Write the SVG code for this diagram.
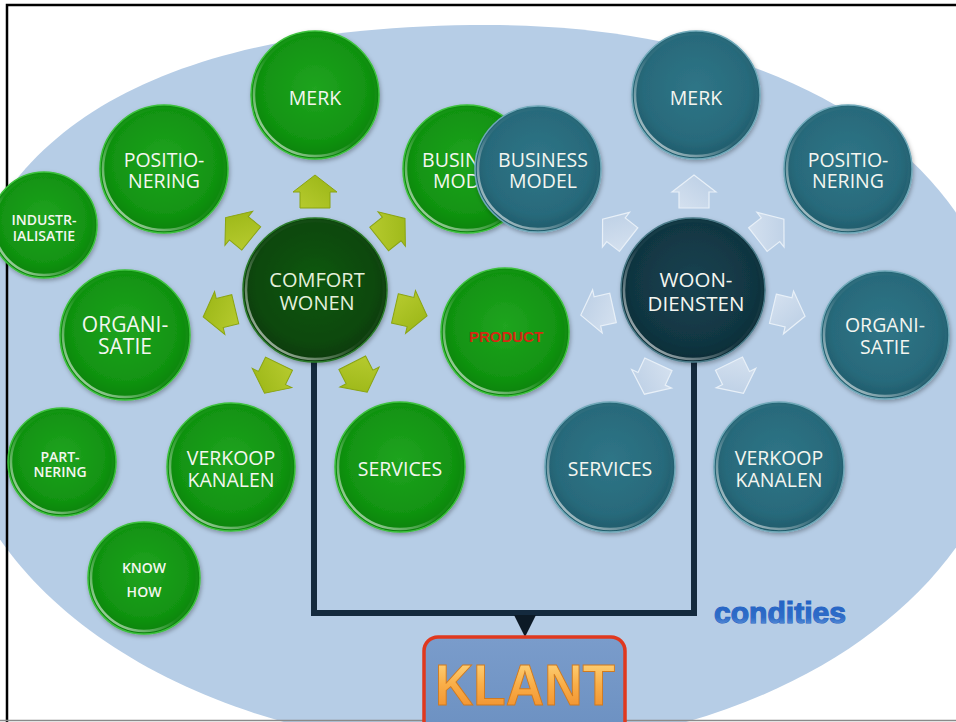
<svg xmlns="http://www.w3.org/2000/svg" width="956" height="722" viewBox="0 0 956 722">
<defs>
<radialGradient id="gG" cx="50%" cy="45%" r="55%"><stop offset="0" stop-color="#20a420"/><stop offset="0.75" stop-color="#119311"/><stop offset="1" stop-color="#0a820a"/></radialGradient>
<radialGradient id="tG" cx="50%" cy="45%" r="55%"><stop offset="0" stop-color="#2f7587"/><stop offset="0.75" stop-color="#286a7b"/><stop offset="1" stop-color="#1f5a6a"/></radialGradient>
<radialGradient id="cG" cx="50%" cy="45%" r="55%"><stop offset="0" stop-color="#105812"/><stop offset="0.75" stop-color="#0a480c"/><stop offset="1" stop-color="#073a08"/></radialGradient>
<radialGradient id="wG" cx="50%" cy="45%" r="55%"><stop offset="0" stop-color="#174251"/><stop offset="0.75" stop-color="#113642"/><stop offset="1" stop-color="#0b2c36"/></radialGradient>
<linearGradient id="rimG" x1="1" y1="0" x2="0" y2="1"><stop offset="0" stop-color="#fff" stop-opacity="0"/><stop offset="0.55" stop-color="#fff" stop-opacity="0.05"/><stop offset="1" stop-color="#fff" stop-opacity="0.8"/></linearGradient>
<linearGradient id="klantG" x1="0" y1="0" x2="0" y2="1"><stop offset="0" stop-color="#ffe08a"/><stop offset="0.5" stop-color="#f9ae48"/><stop offset="1" stop-color="#f08a28"/></linearGradient>
<linearGradient id="boxG" x1="0" y1="0" x2="0" y2="1"><stop offset="0" stop-color="#7a9ccb"/><stop offset="1" stop-color="#6a8fc0"/></linearGradient>
<linearGradient id="condG" x1="0" y1="0" x2="0" y2="1"><stop offset="0" stop-color="#2160c4"/><stop offset="0.65" stop-color="#2e6cc8"/><stop offset="1" stop-color="#6f9fe0"/></linearGradient>
<linearGradient id="agG" x1="0" y1="0" x2="1" y2="1"><stop offset="0" stop-color="#b8cc30"/><stop offset="1" stop-color="#98b414"/></linearGradient>
<linearGradient id="atG" x1="0" y1="0" x2="1" y2="1"><stop offset="0" stop-color="#d6e2f0"/><stop offset="1" stop-color="#b9cde4"/></linearGradient>
<filter id="sh" x="-20%" y="-20%" width="140%" height="140%"><feDropShadow dx="1" dy="2" stdDeviation="2" flood-color="#000" flood-opacity="0.3"/></filter>
<path id="arr" d="M-16,-15H0V-22L17,0L0,22V15H-16Z"/>
<style>
.gc{fill:url(#gG);stroke:#3cc03c;stroke-width:1.5;filter:url(#sh)}
.tc{fill:url(#tG);stroke:#6fa8b8;stroke-width:1.5;filter:url(#sh)}
.rim{fill:none;stroke:url(#rimG);stroke-width:2.5}
.t{font-family:"Open Sans","Liberation Sans",sans-serif;font-size:19.5px;fill:#f4f6f0;text-anchor:middle}
.s{font-size:14px;font-weight:600}
.ag{fill:url(#agG);stroke:#8aa412;stroke-width:1}
.at{fill:url(#atG);stroke:#e8f0f8;stroke-width:1.2}
.ln{fill:none;stroke:#142a3e;stroke-width:6;stroke-linejoin:miter}
</style>
</defs>
<rect width="956" height="722" fill="#fff"/>
<path d="M488,25C801,25 1010,170 1010,387C1010,587 776,749 488,749C191,749 -50,587 -50,387C-50,148 133,25 488,25Z" fill="#b6cde6"/>
<path d="M7,722V5H956" fill="none" stroke="#000" stroke-width="2.5"/>
<line x1="0" y1="720.5" x2="956" y2="720.5" stroke="#8a8a8a" stroke-width="1.5"/>

<g id="connectors">
<path class="ln" d="M314,362V613H694V362"/>
<polygon points="514,615 536,615 525,637" fill="#0c1a26"/>
</g>

<g id="arrows-comfort">
<use href="#arr" class="ag" transform="translate(315,192) rotate(-90)"/>
<use href="#arr" class="ag" transform="translate(391.7,229) rotate(-38.5)"/>
<use href="#arr" class="ag" transform="translate(410.5,312) rotate(13)"/>
<use href="#arr" class="ag" transform="translate(359.5,377) rotate(63)"/>
<use href="#arr" class="ag" transform="translate(272,378) rotate(116)"/>
<use href="#arr" class="ag" transform="translate(219.7,313) rotate(166.5)"/>
<use href="#arr" class="ag" transform="translate(238.8,228.3) rotate(-141)"/>
</g>
<g id="arrows-woon">
<use href="#arr" class="at" transform="translate(694,192) rotate(-90)"/>
<use href="#arr" class="at" transform="translate(616,229.7) rotate(-142)"/>
<use href="#arr" class="at" transform="translate(770.5,229.7) rotate(-38)"/>
<use href="#arr" class="at" transform="translate(788.5,312.4) rotate(13.2)"/>
<use href="#arr" class="at" transform="translate(736,378) rotate(64)"/>
<use href="#arr" class="at" transform="translate(651.6,378.8) rotate(115)"/>
<use href="#arr" class="at" transform="translate(597.4,311.4) rotate(167.4)"/>
</g>

<g id="g-merk" transform="translate(315,95)"><circle r="64" class="gc"/><circle r="61" class="rim"/><text class="t" y="10">MERK</text></g>
<g id="g-positionering" transform="translate(164,169)"><circle r="64" class="gc"/><circle r="61" class="rim"/><text class="t" y="-2">POSITIO-</text><text class="t" y="19">NERING</text></g>
<g id="g-industrialisatie" transform="translate(44,225)"><circle r="53" class="gc"/><circle r="50" class="rim"/><text class="t s" y="0">INDUSTR-</text><text class="t s" y="16">IALISATIE</text></g>
<g id="g-business" transform="translate(467,169)"><circle r="64" class="gc"/><circle r="61" class="rim"/><text class="t" y="-2">BUSINESS</text><text class="t" y="19">MODEL</text></g>
<g id="g-product" transform="translate(505,332)"><circle r="64" class="gc"/><circle r="61" class="rim"/><text class="t" x="1" y="10" style="font-family:'Liberation Sans',Arial,sans-serif;font-weight:bold;font-size:15px;fill:#d42a12">PRODUCT</text></g>
<g id="g-organisatie" transform="translate(125,335)"><circle r="65" class="gc"/><circle r="62" class="rim"/><text class="t" y="-3" style="font-size:21px">ORGANI-</text><text class="t" y="19" style="font-size:21px">SATIE</text></g>
<g id="g-partnering" transform="translate(62,462)"><circle r="54" class="gc"/><circle r="51" class="rim"/><text class="t s" x="-2" y="0">PART-</text><text class="t s" x="-2" y="15">NERING</text></g>
<g id="g-verkoop" transform="translate(231,467)"><circle r="64" class="gc"/><circle r="61" class="rim"/><text class="t" y="-2">VERKOOP</text><text class="t" y="20">KANALEN</text></g>
<g id="g-knowhow" transform="translate(144,578)"><circle r="56" class="gc"/><circle r="53" class="rim"/><text class="t s" y="-5">KNOW</text><text class="t s" y="19">HOW</text></g>
<g id="g-services" transform="translate(400,467)"><circle r="65" class="gc"/><circle r="62" class="rim"/><text class="t" y="9">SERVICES</text></g>
<g id="g-comfort" transform="translate(315,290)"><circle r="72" fill="url(#cG)" stroke="#2a7a2a" stroke-width="1.5" filter="url(#sh)"/><circle r="69" class="rim"/><text class="t" x="2" y="-3" style="font-size:20px;fill:#e4f0dc">COMFORT</text><text class="t" x="2" y="20" style="font-size:20px;fill:#e4f0dc">WONEN</text></g>

<g id="t-merk" transform="translate(696,95)"><circle r="64" class="tc"/><circle r="61" class="rim"/><text class="t" y="10">MERK</text></g>
<g id="t-business" transform="translate(538,169)"><circle r="63" class="tc"/><circle r="60" class="rim"/><text class="t" x="5" y="-2">BUSINESS</text><text class="t" x="5" y="19">MODEL</text></g>
<g id="t-positionering" transform="translate(848,169)"><circle r="64" class="tc"/><circle r="61" class="rim"/><text class="t" y="-2">POSITIO-</text><text class="t" y="19">NERING</text></g>
<g id="t-organisatie" transform="translate(885,335)"><circle r="64" class="tc"/><circle r="61" class="rim"/><text class="t" y="-3">ORGANI-</text><text class="t" y="19">SATIE</text></g>
<g id="t-services" transform="translate(610,467)"><circle r="65" class="tc"/><circle r="62" class="rim"/><text class="t" y="9">SERVICES</text></g>
<g id="t-verkoop" transform="translate(779,467)"><circle r="65" class="tc"/><circle r="62" class="rim"/><text class="t" y="-2">VERKOOP</text><text class="t" y="20">KANALEN</text></g>
<g id="t-woondiensten" transform="translate(693,290)"><circle r="72" fill="url(#wG)" stroke="#4a7a88" stroke-width="1.5" filter="url(#sh)"/><circle r="69" class="rim"/><text class="t" x="3" y="-3" style="font-size:20.5px">WOON-</text><text class="t" x="3" y="21" style="font-size:20.5px">DIENSTEN</text></g>

<g id="klant">
<rect x="424" y="637" width="201" height="110" rx="14" fill="url(#boxG)" stroke="#e0381e" stroke-width="3.5"/>
<text x="525" y="705" text-anchor="middle" textLength="180" lengthAdjust="spacingAndGlyphs" style="font-family:'Liberation Sans',Arial,sans-serif;font-weight:bold;font-size:58px;fill:url(#klantG);stroke:#d07a20;stroke-width:1">KLANT</text>
</g>
<g id="condities">
<text x="714" y="623" textLength="132" lengthAdjust="spacingAndGlyphs" style="font-family:'Liberation Sans',Arial,sans-serif;font-weight:bold;font-size:30px;fill:url(#condG);stroke:#2a64c0;stroke-width:1.2;paint-order:stroke">condities</text>
</g>
</svg>
